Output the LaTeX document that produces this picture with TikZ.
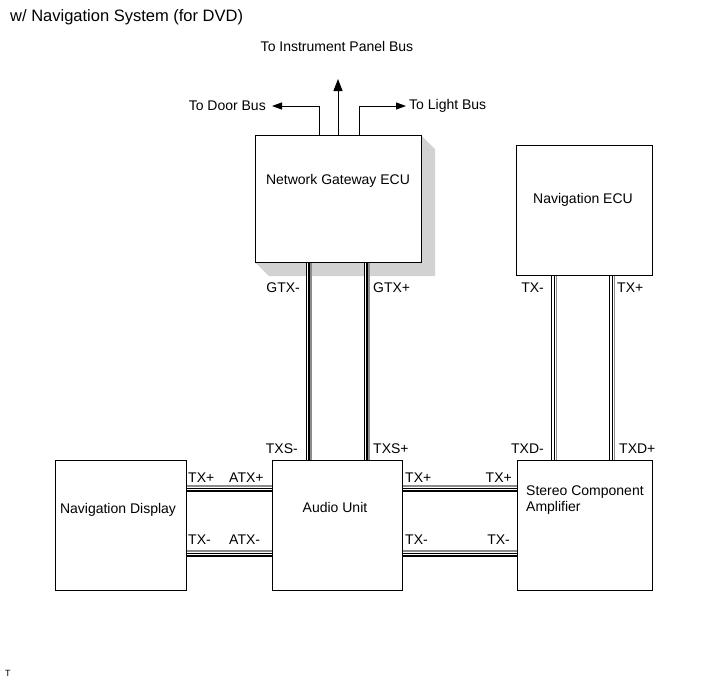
\documentclass[tikz,border=0pt]{standalone}
\usepackage{fontspec}
\setmainfont{Liberation Sans}
\usetikzlibrary{arrows.meta}
\begin{document}
\begin{tikzpicture}[x=1pt,y=-1pt,
  box/.style={draw, line width=0.8pt, fill=white, inner sep=0pt, font=\fontsize{14}{16}\selectfont},
  lbl/.style={font=\fontsize{14}{16}\selectfont, inner sep=0pt},
  wire/.style={double, double distance=1.2pt, line width=1.4pt},
  shade/.style={draw=gray!90, line width=1.3pt},
  bigarrow/.style={line width=1pt, -{Triangle[length=12pt,width=9pt]}},
  smallarrow/.style={line width=1pt, -{Triangle[length=10pt,width=7pt]}}]
\useasboundingbox (0,0) rectangle (713,681);

% title
\node[anchor=west, inner sep=0pt, font=\fontsize{16.5}{19}\selectfont] (title) at (10,17) {w/ Navigation System (for DVD)};
\node[anchor=west, inner sep=0pt, font=\fontsize{9}{10}\selectfont] (tmark) at (5,673) {T};

% gateway shadow
\fill[gray!35] (421,135) -- (435,149) -- (435,276) -- (269,276) -- (255,262) -- cycle;

% boxes
\node[box, anchor=north west, minimum width=166pt, minimum height=127pt] (gw) at (255,135) {};
\node[lbl] (gwt) at (338,181) {Network Gateway ECU};
\node[box, anchor=north west, minimum width=136pt, minimum height=130pt] (ne) at (516,145) {};
\node[lbl] (net) at (583,200) {Navigation ECU};
\node[box, anchor=north west, minimum width=131pt, minimum height=130pt] (nd) at (55,460) {};
\node[lbl] (ndt) at (118,510) {Navigation Display};
\node[box, anchor=north west, minimum width=130pt, minimum height=130pt] (au) at (272,460) {};
\node[lbl] (aut) at (335,507) {Audio Unit};
\node[box, anchor=north west, minimum width=135pt, minimum height=130pt] (sa) at (517,460) {};
\node[lbl, anchor=west, align=left] (sat) at (526,500) {Stereo Component\\Amplifier};

% bus arrows
\coordinate (ip) at (338,79);
\coordinate (db) at (272,106);
\coordinate (lb) at (406,106);
\draw[bigarrow] (gw.north -| 338,0) -- (ip);
\draw[smallarrow] (gw.north -| 319,0) |- (db);
\draw[smallarrow] (gw.north -| 359,0) |- (lb);
\node[lbl] (ipt) at (337,46) {To Instrument Panel Bus};
\node[lbl, anchor=east] (dbt) at (266,106) {To Door Bus};
\node[lbl, anchor=west] (lbt) at (409,106) {To Light Bus};

% vertical wires
\draw[shade] (gw.south -| 311,0) -- (au.north -| 311,0);
\draw[wire] (gw.south -| 307.5,0) -- (au.north -| 307.5,0);
\draw[shade] (gw.south -| 369,0) -- (au.north -| 369,0);
\draw[wire] (gw.south -| 365.5,0) -- (au.north -| 365.5,0);
\draw[shade] (ne.south -| 556.5,0) -- (sa.north -| 556.5,0);
\draw[wire] (ne.south -| 553,0) -- (sa.north -| 553,0);
\draw[shade] (ne.south -| 614.5,0) -- (sa.north -| 614.5,0);
\draw[wire] (ne.south -| 611,0) -- (sa.north -| 611,0);

% horizontal wires
\draw[shade] (nd.east |- 0,486) -- (au.west |- 0,486);
\draw[wire] (nd.east |- 0,489.5) -- (au.west |- 0,489.5);
\draw[shade] (nd.east |- 0,551) -- (au.west |- 0,551);
\draw[wire] (nd.east |- 0,554.5) -- (au.west |- 0,554.5);
\draw[shade] (au.east |- 0,486) -- (sa.west |- 0,486);
\draw[wire] (au.east |- 0,489.5) -- (sa.west |- 0,489.5);
\draw[shade] (au.east |- 0,551) -- (sa.west |- 0,551);
\draw[wire] (au.east |- 0,554.5) -- (sa.west |- 0,554.5);

% pin labels
\node[lbl, anchor=east] (l1) at (300,288) {GTX-};
\node[lbl, anchor=west] (l2) at (373,288) {GTX+};
\node[lbl, anchor=east] (l3) at (298,449) {TXS-};
\node[lbl, anchor=west] (l4) at (373,449) {TXS+};
\node[lbl, anchor=east] (l5) at (544,288) {TX-};
\node[lbl, anchor=west] (l6) at (617,288) {TX+};
\node[lbl, anchor=east] (l7) at (544,449) {TXD-};
\node[lbl, anchor=west] (l8) at (619,449) {TXD+};
\node[lbl, anchor=west] (l9) at (188,478) {TX+};
\node[lbl, anchor=west] (l10) at (229,478) {ATX+};
\node[lbl, anchor=west] (l11) at (188,540) {TX-};
\node[lbl, anchor=west] (l12) at (229,540) {ATX-};
\node[lbl, anchor=west] (l13) at (405,478) {TX+};
\node[lbl, anchor=east] (l14) at (512,478) {TX+};
\node[lbl, anchor=west] (l15) at (405,540) {TX-};
\node[lbl, anchor=east] (l16) at (510,540) {TX-};
\end{tikzpicture}
\end{document}
